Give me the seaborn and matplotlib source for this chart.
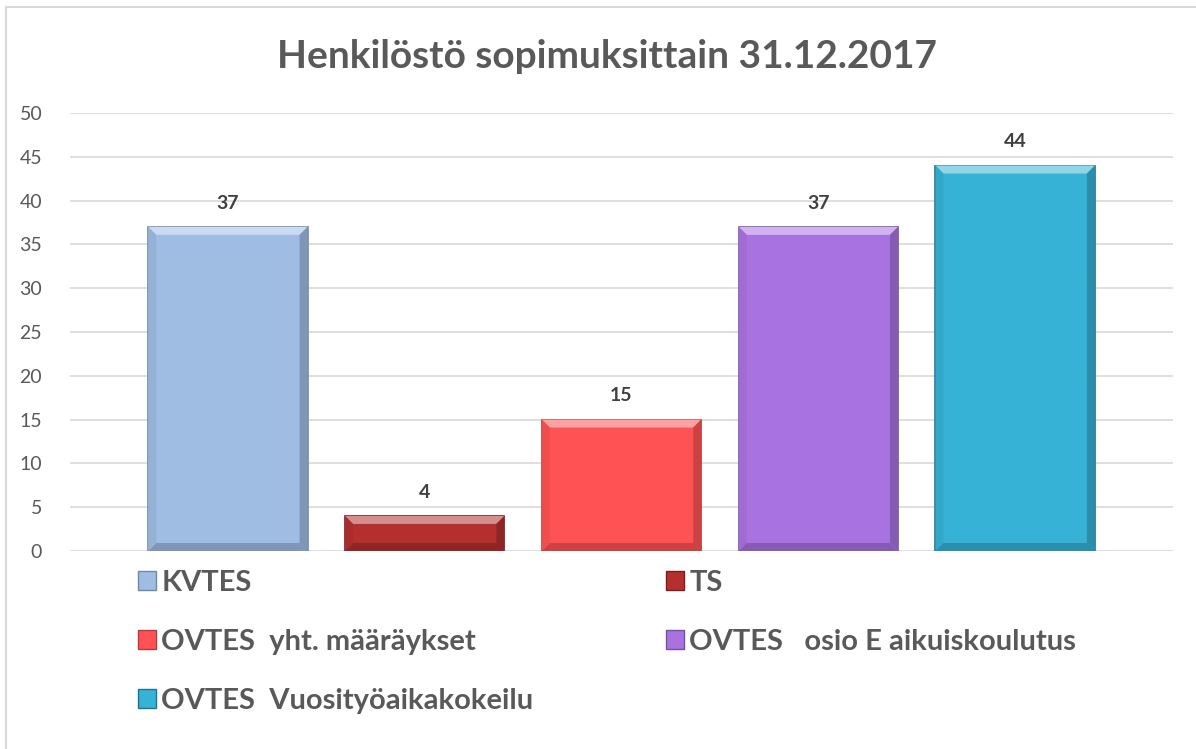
import matplotlib

matplotlib.use('agg')
import matplotlib.pyplot as plt
import matplotlib.patches as mpatches
import matplotlib.colors as mcolors
from matplotlib.font_manager import FontProperties
import seaborn as sns

categories = ['KVTES', 'TS', 'OVTES  yht. määräykset',
              'OVTES   osio E aikuiskoulutus', 'OVTES  Vuosityöaikakokeilu']
values = [37, 4, 15, 37, 44]
colors = ['#9FBCE3', '#B3302F', '#FF5254', '#A873E0', '#36B2D6']
edge_colors = ['#6F87A8', '#7A1E1E', '#B83A3A', '#7450A0', '#1F7390']

title = 'Henkilöstö sopimuksittain 31.12.2017'
y_ticks = [0, 5, 10, 15, 20, 25, 30, 35, 40, 45, 50]

sns.set_style('white')
plt.rcParams['font.family'] = ['Lato', 'DejaVu Sans']

W, H = 1196, 749
fig = plt.figure(figsize=(W / 100, H / 100), dpi=100)
ax = fig.add_axes([70 / W, 1 - 551 / H, (1173 - 70) / W, (551 - 113) / H])

sns.barplot(x=categories, y=values, hue=categories, palette=colors,
            width=0.81, legend=False, ax=ax, saturation=1)

ax.set_xlim(-0.802, 4.802)
ax.set_ylim(0, 50)


def shade(c, f):
    r, g, b = mcolors.to_rgb(c)
    if f > 0:
        return (r + (1 - r) * f, g + (1 - g) * f, b + (1 - b) * f)
    return (r * (1 + f), g * (1 + f), b * (1 + f))


# simple bevel: light top, darker sides and bottom
px_x = (4.802 + 0.802) / (1173 - 70)
px_y = 50 / (551 - 113)
bev = 8
for patch, c, ec in zip(ax.patches, colors, edge_colors):
    patch.set_edgecolor(ec)
    patch.set_linewidth(1.2)
    x0, y0 = patch.get_x(), patch.get_y()
    w, h = patch.get_width(), patch.get_height()
    dx, dy = bev * px_x, min(bev * px_y, h / 3)
    x1, y1 = x0 + w, y0 + h
    bevels = [
        ([(x0, y1), (x1, y1), (x1 - dx, y1 - dy), (x0 + dx, y1 - dy)], shade(c, 0.45)),
        ([(x0, y0), (x1, y0), (x1 - dx, y0 + dy), (x0 + dx, y0 + dy)], shade(c, -0.2)),
        ([(x0, y0), (x0 + dx, y0 + dy), (x0 + dx, y1 - dy), (x0, y1)], shade(c, -0.06)),
        ([(x1, y0), (x1 - dx, y0 + dy), (x1 - dx, y1 - dy), (x1, y1)], shade(c, -0.2)),
    ]
    for pts, fc in bevels:
        ax.add_patch(mpatches.Polygon(pts, closed=True, facecolor=fc,
                                      edgecolor='none', zorder=patch.get_zorder() + 0.1))

for cont in ax.containers:
    ax.bar_label(cont, padding=11, fontsize=14, fontweight='bold', color='#404040')

ax.set_yticks(y_ticks)
ax.set_xticks([])
ax.tick_params(axis='y', labelsize=14, labelcolor='#595959', length=0, pad=20)
ax.yaxis.grid(True, color='#D9D9D9', linewidth=1.2)
ax.set_axisbelow(True)
for s in ax.spines.values():
    s.set_visible(False)

fig.text(607 / W, 1 - 56 / H, title, ha='center', va='center',
         fontsize=28, fontweight='bold', color='#595959')

# chart border
fig.patches.append(mpatches.Rectangle((6 / W, -0.05), 1.1, 1 - 7 / H + 0.05,
                                      transform=fig.transFigure, fill=False,
                                      edgecolor='#D9D9D9', linewidth=1.5))

handles = [mpatches.Patch(facecolor=c, edgecolor=e, label=l)
           for c, e, l in zip(colors, edge_colors, categories)]
leg_font = FontProperties(family=['Lato', 'DejaVu Sans'], weight='bold', size=21)
leg_kw = dict(frameon=False, handlelength=0.62, handleheight=0.62,
              handletextpad=0.18, labelspacing=1.13, labelcolor='#595959',
              prop=leg_font, borderaxespad=0, borderpad=0)
leg1 = fig.legend(handles=[handles[0], handles[2], handles[4]], loc='upper left',
                  bbox_to_anchor=(138 / W, 1 - 570 / H), **leg_kw)
leg2 = fig.legend(handles=[handles[1], handles[3]], loc='upper left',
                  bbox_to_anchor=(666 / W, 1 - 570 / H), **leg_kw)

fig.savefig('out.png', dpi=100)
